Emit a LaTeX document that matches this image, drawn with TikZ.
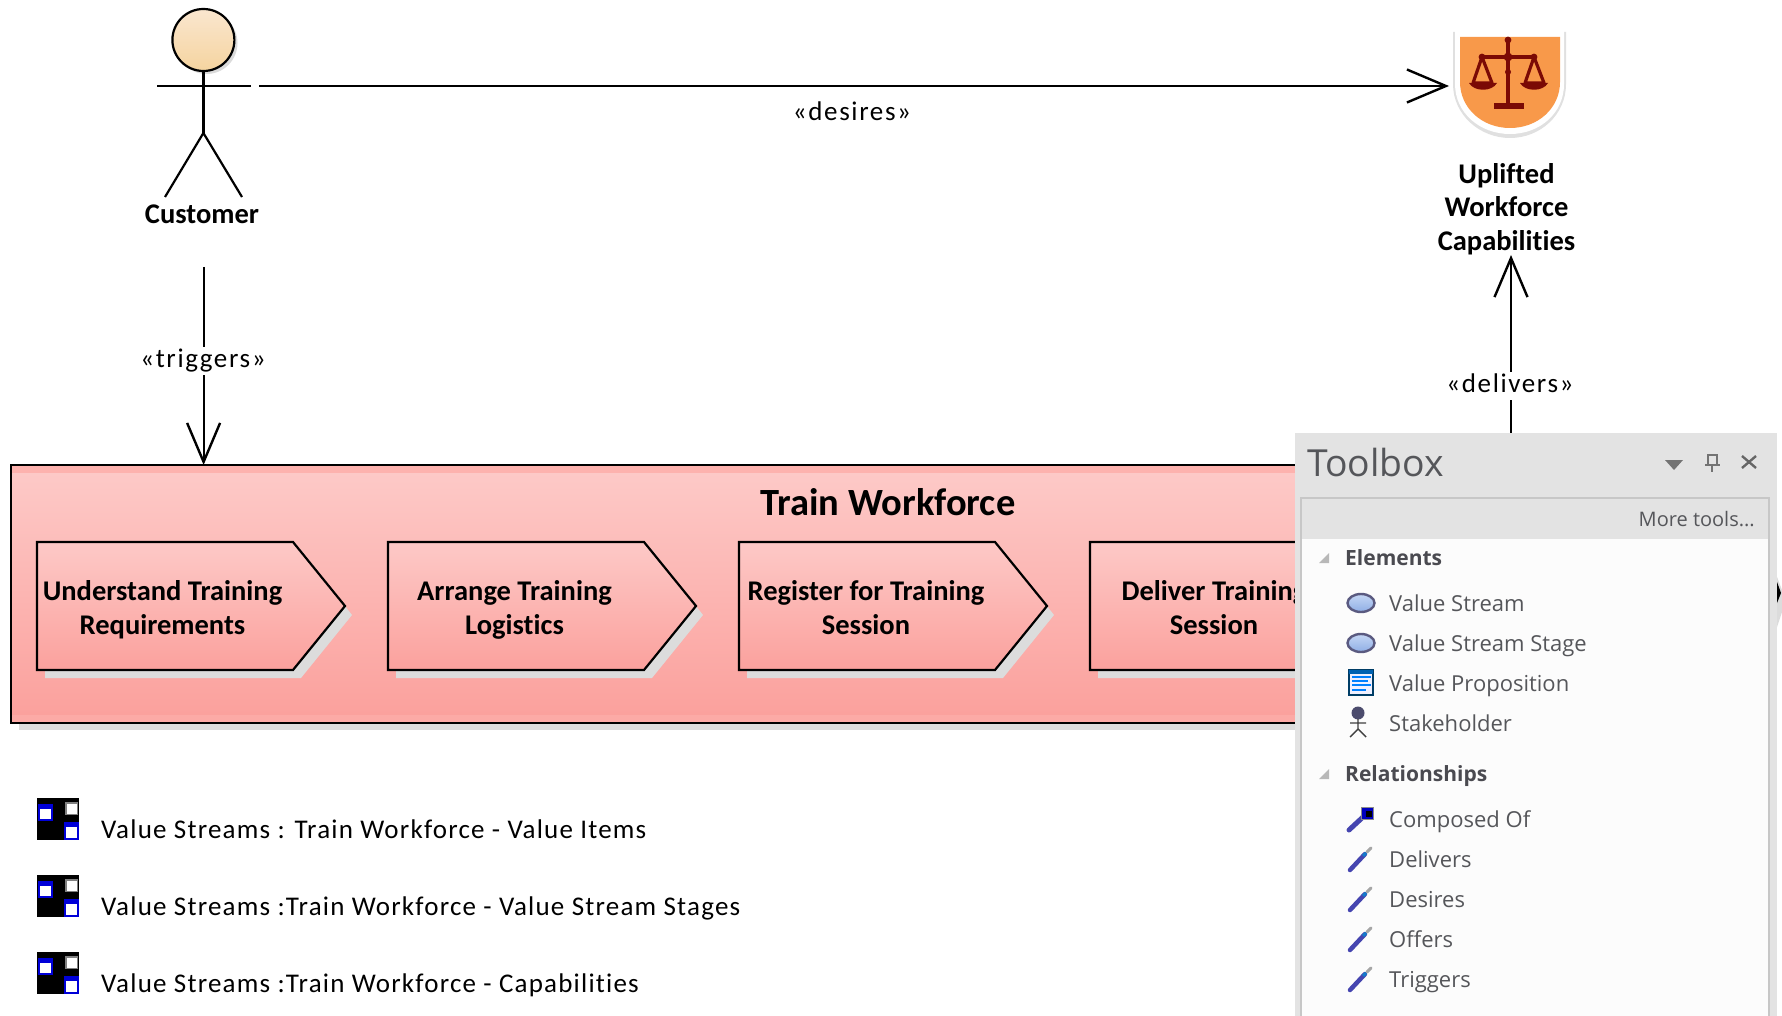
\documentclass[tikz,border=0pt]{standalone}
\usepackage{fontspec}
\setmainfont[Ligatures=NoCommon]{Carlito}
\newfontfamily\ui{Open Sans}
\usetikzlibrary{arrows.meta,shapes.geometric}
\definecolor{boxtop}{HTML}{FDC9C7}
\definecolor{boxbot}{HTML}{FBA19D}
\definecolor{boxbandT}{HTML}{FDB2AE}
\definecolor{boxbandB}{HTML}{FCAAA6}
\definecolor{shad}{HTML}{DCDCDC}
\definecolor{panel}{HTML}{E3E3E3}
\definecolor{uitext}{HTML}{55565A}
\definecolor{uihead}{HTML}{4A4A50}
\definecolor{orangeS}{HTML}{F8994A}
\definecolor{scaleC}{HTML}{7B0A05}
\definecolor{iblue}{HTML}{0000D8}
\definecolor{wandC}{HTML}{4545B0}
\definecolor{headT}{HTML}{FAE6CF}
\definecolor{headB}{HTML}{F5D49F}
\definecolor{ellT}{HTML}{C5D7F5}
\definecolor{ellB}{HTML}{8FAEE5}
\definecolor{ellD}{HTML}{5A5A80}
\tikzset{
  conn/.style={line width=2.2pt,draw=black,-{Straight Barb[length=39pt,width=33pt,line width=2.4pt]}},
  plainconn/.style={line width=2.2pt,draw=black},
  lbl/.style={font=\fontsize{27}{30}\selectfont\addfontfeatures{LetterSpace=6},inner sep=2pt,text=black,text height=18pt,text depth=6pt},
  bold/.style={font=\fontsize{28.5}{33.4}\selectfont\bfseries,align=center,inner sep=0pt},
  legend/.style={font=\fontsize{27}{30}\selectfont\addfontfeatures{LetterSpace=4.5},anchor=base west,inner sep=0pt},
  uilab/.style={font=\ui\fontsize{22}{26}\selectfont,text=uitext,anchor=base west,inner sep=0pt},
  uisec/.style={font=\ui\fontsize{21}{26}\selectfont\bfseries,text=uihead,anchor=base west,inner sep=0pt},
  chev/.style={line width=2.2pt,draw=black,top color=boxtop,bottom color=boxbot,line join=miter},
}
\newcommand{\chevron}[1]{%
  \fill[shad] (#1+8,550) -- (#1+264,550) -- (#1+315,615) -- (#1+264,678) -- (#1+8,678) -- cycle;
  \path[chev] (#1,542) -- (#1+256,542) -- (#1+308,606) -- (#1+256,670) -- (#1,670) -- cycle;
}
\newcommand{\legendicon}[1]{%
  \fill[black] (37,#1) rectangle (79,#1+42);
  \fill[iblue] (37.7,#1+6) rectangle (52.7,#1+22.7);
  \fill[white] (40,#1+11) rectangle (50.7,#1+21.3);
  \fill[black!50] (65,#1+4) rectangle (78,#1+17);
  \fill[white] (66.5,#1+5.5) rectangle (76.5,#1+15.5);
  \fill[iblue] (64,#1+24.3) rectangle (79,#1+42);
  \fill[white] (65.7,#1+28.7) rectangle (77.3,#1+40.3);
}
\newcommand{\wandicon}[1]{%
  \draw[line width=4.5pt,wandC,line cap=round] (1350,#1+10) -- (1365,#1-6);
  \draw[line width=3pt,white!65!black,line cap=round] (1367,#1-8) -- (1371,#1-12);
  \draw[line width=3pt,cyan!60!blue] (1363,#1-4) -- (1366,#1-7);
}
\begin{document}
\begin{tikzpicture}[x=1pt,y=-1pt]
\useasboundingbox (0,0) rectangle (1782,1016);
\fill[white] (0,0) rectangle (1782,1016);
% actor
\fill[black!14] (206.5,43) circle (31pt);
\node[circle,draw=black,line width=2.2pt,minimum size=62pt,inner sep=0pt,
      top color=headT,bottom color=headB] (head) at (203.4,40) {};
\coordinate (armL) at (157,86);
\coordinate (armR) at (250.7,86);
\coordinate (crotch) at (203.4,133);
\draw[plainconn] (armL) -- (armR);
\draw[plainconn] (head.south) -- (crotch);
\draw[plainconn] (165,197) -- (crotch) -- (242,197);
\node[bold] (customer) at (202,214) {Customer};
% shield
\fill[black!12] (1453,32) -- (1566,32) -- (1566,84) .. controls (1566,115) and (1540,138) .. (1510,138) .. controls (1480,138) and (1453,115) .. (1453,84) -- cycle;
\fill[white] (1455,30) -- (1564,30) -- (1564,84) .. controls (1564,113) and (1540,134) .. (1510,134) .. controls (1480,134) and (1455,113) .. (1455,84) -- cycle;
\fill[orangeS] (1460,37) -- (1560,37) -- (1560,82) .. controls (1560,108) and (1538,128) .. (1510,128) .. controls (1482,128) and (1460,108) .. (1460,82) -- cycle;
\coordinate (shieldW) at (1449,86);
\begin{scope}[scaleC]
  \draw[line width=4.5pt] (1508,40) -- (1508,106);
  \fill (1508,40) circle (3.4pt) (1508,57) circle (4.4pt) (1508,72) circle (3pt);
  \draw[line width=3.2pt] (1482,57) -- (1534,57);
  \fill (1482,57) circle (3.4pt) (1534,57) circle (3.4pt);
  \fill (1494,103) rectangle (1524,109);
  \draw[line width=3.2pt,line join=round] (1482,57) -- (1473,83) -- (1492,83) -- cycle;
  \draw[line width=3.2pt,line join=round] (1534,57) -- (1525,83) -- (1544,83) -- cycle;
  \fill (1469,83) .. controls (1474,92) and (1492,92) .. (1497,83) -- cycle;
  \fill (1520,83) .. controls (1525,92) and (1543,92) .. (1548,83) -- cycle;
\end{scope}
\node[bold] (goal) at (1506.5,212) {Uplifted\\Workforce\\Capabilities\strut};
% desires
\coordinate (desStart) at (259,86);
\draw[conn] (desStart) -- (shieldW);
\node[lbl] (desires) at (852,115) {«desires»};
% main box
\fill[shad] (19,473) rectangle (1300,730);
\fill[boxbandT] (11,465) rectangle (1300,473);
\fill[boxbandB] (11,714) rectangle (1300,723);
\shade[top color=boxtop,bottom color=boxbot] (11,473) rectangle (1300,714);
\draw[line width=2.2pt] (1300,465) -- (11,465) -- (11,723) -- (1300,723);
\coordinate (boxT) at (203.6,465);
\node[font=\fontsize{38.5}{44}\selectfont\bfseries,inner sep=0pt] (title) at (888,502) {Train Workforce};
\chevron{37}
\chevron{388}
\chevron{739}
\chevron{1090}
\node[bold] (s1) at (162.5,612.7) {Understand Training\\Requirements\strut};
\node[bold] (s2) at (514.5,612.7) {Arrange Training\\Logistics\strut};
\node[bold] (s3) at (866,612.7) {Register for Training\\Session\strut};
\node[bold] (s4) at (1214,612.7) {Deliver Training\\Session\strut};
% triggers
\coordinate (trigStart) at (203.6,267);
\draw[conn] (trigStart) -- (boxT);
\node[lbl,fill=white] (triggers) at (203,361) {«triggers»};
% delivers
\coordinate (delStart) at (1511,440);
\coordinate (delEnd) at (1511,255);
\draw[conn] (delStart) -- (delEnd);
\node[lbl,fill=white] (delivers) at (1510,386) {«delivers»};
% legend
\legendicon{798}
\legendicon{875}
\legendicon{952}
\node[legend] (l1) at (101,838) {Value Streams : Train Workforce - Value Items};
\node[legend] (l2) at (101,915) {Value Streams :Train Workforce - Value Stream Stages};
\node[legend] (l3) at (101,992) {Value Streams :Train Workforce - Capabilities};
% right-edge remnant
\fill[shad] (1777,577) -- (1782,590) -- (1782,612) -- (1777,627) -- cycle;
\fill[black] (1777,582) -- (1781,593) -- (1777,603) -- cycle;
% toolbox
\fill[panel] (1295,433) rectangle (1777,1016);
\fill[white!99!black] (1301,539) rectangle (1769,1016);
\draw[line width=1.6pt,black!22] (1301,1016) -- (1301,498) -- (1769,498) -- (1769,1016);
\node[font=\ui\fontsize{37.3}{40}\selectfont,text=uitext,anchor=base west,inner sep=0pt] (tbtitle) at (1307,476) {Toolbox};
\node[font=\ui\fontsize{20}{26}\selectfont,text=uitext,anchor=base east,inner sep=0pt] (more) at (1755,526.7) {More tools...};
\fill[black!55] (1665,460) -- (1683,460) -- (1674,470) -- cycle;
\draw[line width=2pt,black!55] (1708,455) rectangle (1717,465) (1705,465) -- (1720,465) (1712,465) -- (1712,472);
\draw[line width=2.4pt,black!60] (1742,456) -- (1756,468) (1756,456) -- (1742,468);
\fill[black!28] (1329,553) -- (1329,563) -- (1319,563) -- cycle;
\fill[black!28] (1329,769) -- (1329,779) -- (1319,779) -- cycle;
\node[uisec] (elements) at (1345,565) {Elements};
\node[uisec] (rels) at (1345,781) {Relationships};
\node[uilab] (t1) at (1389,611.7) {Value Stream};
\node[uilab] (t2) at (1389,651.7) {Value Stream Stage};
\node[uilab] (t3) at (1389,691.7) {Value Proposition};
\node[uilab] (t4) at (1389,731.7) {Stakeholder};
\node[uilab] (t5) at (1389,827.7) {Composed Of};
\node[uilab] (t6) at (1389,867.7) {Delivers};
\node[uilab] (t7) at (1389,907.7) {Desires};
\node[uilab] (t8) at (1389,947.7) {Offers};
\node[uilab] (t9) at (1389,987.7) {Triggers};
\foreach \yy in {603,643}{
  \path[draw=ellD,line width=2.4pt,top color=ellT,bottom color=ellB] (1361,\yy) ellipse (13.5pt and 9pt);
}
\draw[line width=1.8pt,blue!40!cyan!40!black,fill=blue!6!white] (1349,670) rectangle (1373,695);
\fill[blue!45!cyan!70!black] (1349,670) rectangle (1373,674);
\foreach \yy/\xa/\xb in {677/1352/1371,681/1352/1368,685/1352/1371,690/1352/1366}{
  \draw[line width=1.8pt,blue!50!cyan] (\xa,\yy) -- (\xb,\yy);
}
\fill[black!40!blue!30!black!70] (1358,713) circle (6.5pt);
\draw[line width=1.4pt,black!75] (1358,719) -- (1358,729) (1350,723) -- (1366,723) (1350,737) -- (1358,729) -- (1366,737);
\draw[line width=5pt,wandC,line cap=round] (1349,830) -- (1363,817);
\fill[black!45] (1361,807) rectangle (1374,820);
\fill[blue!75!black] (1362,808) rectangle (1373,819);
\fill[black] (1366,811) rectangle (1372,817);
\wandicon{860}
\wandicon{900}
\wandicon{940}
\wandicon{980}
\end{tikzpicture}
\end{document}
